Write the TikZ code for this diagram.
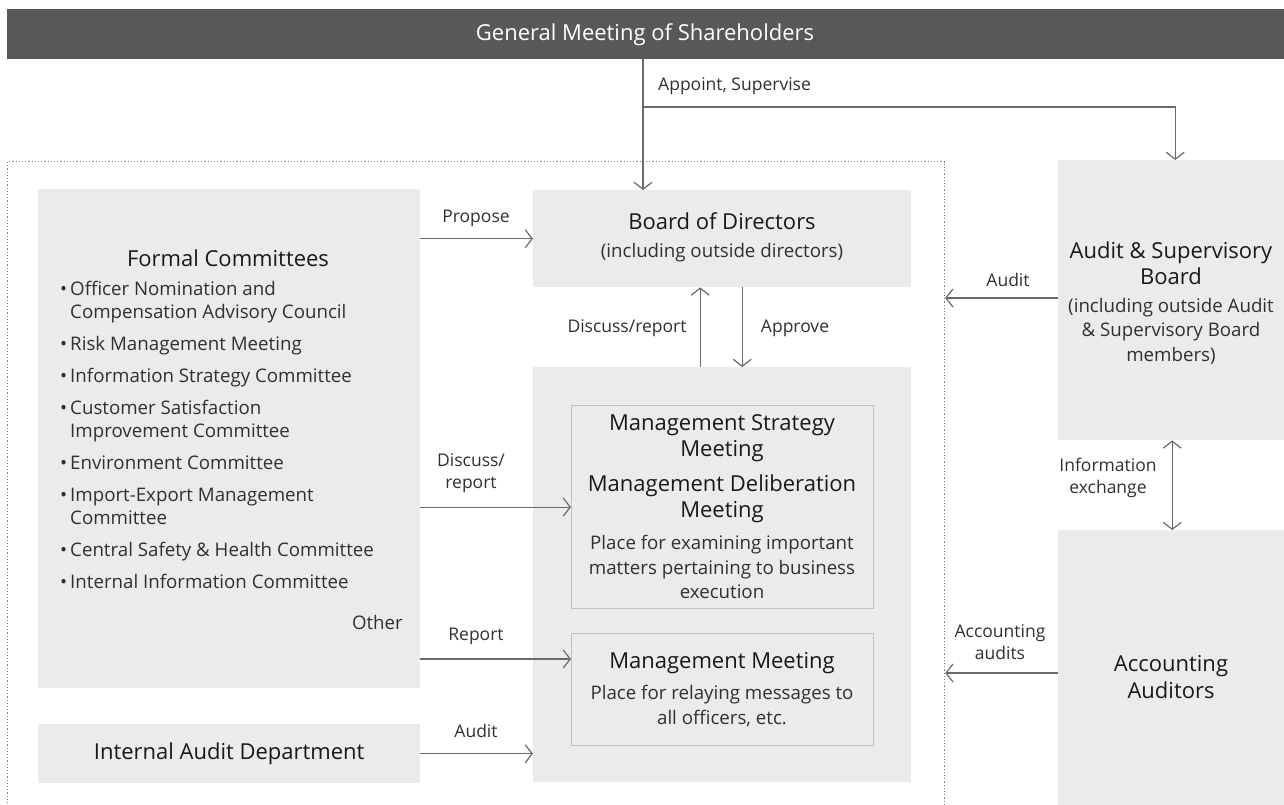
\documentclass[tikz,border=0pt]{standalone}
\usepackage{fontspec}
\setmainfont{Open Sans}
\usetikzlibrary{arrows.meta,positioning,calc}
\definecolor{boxgray}{HTML}{EAEBEB}
\definecolor{bargray}{HTML}{595757}
\definecolor{linegray}{HTML}{6A6A6A}
\definecolor{framegray}{HTML}{808080}
\definecolor{txtgray}{HTML}{303030}

\begin{document}
\begin{tikzpicture}[x=1pt, y=-1pt,
  box/.style={fill=boxgray, draw=none, anchor=north west, inner sep=0pt},
  subbox/.style={fill=boxgray, draw=black!25, line width=1.2pt, anchor=north west, inner sep=0pt},
  arr/.style={draw=linegray, line width=1.2pt, -{Straight Barb[length=7pt,width=18pt,line width=1.2pt]}},
  ttl/.style={font=\fontsize{22}{26.5}\selectfont, text=black!90, align=center, inner sep=0pt},
  txt/.style={font=\fontsize{18.7}{24.5}\selectfont, text=txtgray, align=center, inner sep=0pt},
  lbl/.style={font=\fontsize{17.5}{21.5}\selectfont, text=txtgray, align=center, inner sep=0pt}]
\useasboundingbox (0,0) rectangle (1284,805);
\node[box, fill=bargray, minimum width=1277pt, minimum height=50pt] (gms) at (7,9) {};
\node[font=\fontsize{22}{26}\selectfont, text=white, inner sep=0pt] (gmstext) at (645,35) {General Meeting of Shareholders};
\node[draw=framegray, dotted, line width=1.2pt, anchor=north west, minimum width=937pt, minimum height=660pt, inner sep=0pt] (frame) at (7,161) {};

\node[box, minimum width=382pt, minimum height=499pt] (fc) at (38,189) {};
\node[box, minimum width=382pt, minimum height=59pt] (iad) at (38,724) {};
\node[box, minimum width=378pt, minimum height=97pt] (bod) at (533,190) {};
\node[box, minimum width=378pt, minimum height=415pt] (mgmt) at (533,367) {};
\node[subbox, minimum width=302pt, minimum height=203pt] (ms) at (571,405) {};
\node[subbox, minimum width=302pt, minimum height=112pt] (mm) at (571,633) {};
\node[box, minimum width=226pt, minimum height=280pt] (asb) at (1058,160) {};
\node[box, minimum width=226pt, minimum height=275pt] (aa) at (1058,530) {};

\node[ttl] (bodttl) at (722,221) {Board of Directors};
\node[txt] (bodsub) at (722,253) {(including outside directors)};
\node[ttl] (fcttl) at (228,258) {Formal Committees};
\node[txt, anchor=west, align=left, font=\fontsize{18.7}{23}\selectfont] (fclist) at (60,437) {%
  \begin{tabular}{@{}l@{\hspace{3pt}}l@{}}
  \textbullet & Officer Nomination and\\ & Compensation Advisory Council\\[9pt]
  \textbullet & Risk Management Meeting\\[9pt]
  \textbullet & Information Strategy Committee\\[9pt]
  \textbullet & Customer Satisfaction\\ & Improvement Committee\\[9pt]
  \textbullet & Environment Committee\\[9pt]
  \textbullet & Import-Export Management\\ & Committee\\[9pt]
  \textbullet & Central Safety \& Health Committee\\[9pt]
  \textbullet & Internal Information Committee
  \end{tabular}};
\node[txt, anchor=east] (other) at (403,622) {Other};
\node[ttl] (iadttl) at (iad.center) {Internal Audit Department};
\node[ttl] (msttl) at (722,438) {Management Strategy\\Meeting};
\node[ttl] (mdttl) at (722,499) {Management Deliberation\\Meeting};
\node[txt] (mssub) at (722,567) {Place for examining important\\matters pertaining to business\\execution};
\node[ttl] (mmttl) at (722,663) {Management Meeting};
\node[txt] (mmsub) at (722,706) {Place for relaying messages to\\all officers, etc.};
\node[ttl] (asbttl) at (1171,263) {Audit \& Supervisory\\Board};
\node[txt] (asbsub) at (1171,331) {(including outside Audit\\\& Supervisory Board\\members)};
\node[ttl] (aattl) at (1171,677) {Accounting\\Auditors};

\coordinate (split) at (643,107);
\draw[arr, -] (gms.south -| split) -- (split);
\draw[arr] (split) -- (bod.north -| split);
\draw[arr] (split) -| ([xshift=4pt]asb.north);
\node[lbl, anchor=west] (appoint) at (658,86) {Appoint, Supervise};

\draw[arr] (bod.west -| fc.east) -- (bod.west);
\node[lbl] (propose) at (476,218) {Propose};
\draw[arr] ([xshift=-22pt]mgmt.north) -- ([xshift=-22pt]bod.south);
\node[lbl] (discuss) at (627,328) {Discuss/report};
\draw[arr] ([xshift=20pt]bod.south) -- ([xshift=20pt]mgmt.north);
\node[lbl] (approve) at (795,328) {Approve};
\draw[arr] (ms.west -| fc.east) -- (ms.west);
\node[lbl] (discuss2) at (471,473) {Discuss/\\report};
\draw[arr] (fc.east |- 0,659) -- (mm.west |- 0,659);
\node[lbl] (report) at (476,636) {Report};
\draw[arr] (iad.east) -- (iad.east -| mgmt.west);
\node[lbl] (audit1) at (476,731) {Audit};

\draw[arr] (asb.west |- 0,298) -- (frame.east |- 0,298);
\node[lbl] (audit2) at (1008,280) {Audit};
\draw[arr, {Straight Barb[length=7pt,width=18pt,line width=1.2pt]}-{Straight Barb[length=7pt,width=18pt,line width=1.2pt]}] ([xshift=1pt]asb.south) -- ([xshift=1pt]aa.north);
\node[lbl] (infoex) at (1108,478) {Information\\exchange};
\draw[arr] (aa.west |- 0,673) -- (frame.east |- 0,673);
\node[lbl] (accaud) at (1000,642) {Accounting\\audits};
\end{tikzpicture}
\end{document}
